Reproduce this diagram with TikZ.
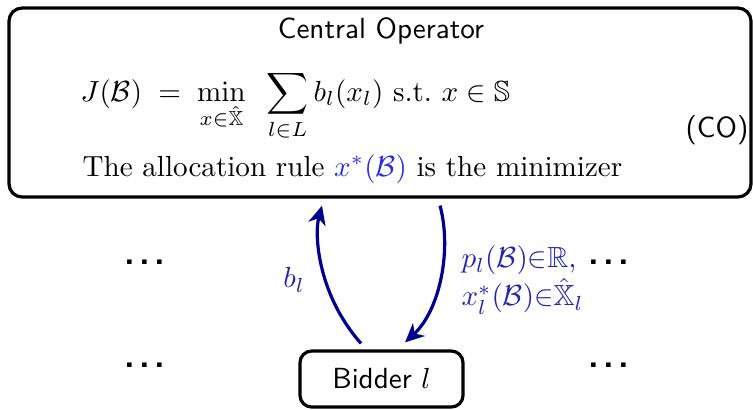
\documentclass[tikz,border=0pt]{standalone}
\usepackage{amsmath,amssymb}
\usetikzlibrary{calc,arrows.meta}
\definecolor{arrowcol}{RGB}{0,0,140}
\definecolor{labelcol}{RGB}{35,35,175}
\definecolor{hl}{RGB}{40,40,235}
\def\pxu{0.3434pt}
\tikzset{
  bigbox/.style={draw, line width=1.1pt, rounded corners=4.5pt, inner sep=0pt},
  bidbox/.style={draw, line width=1.1pt, rounded corners=4pt, inner sep=0pt, font=\sffamily},
  arr/.style={draw=arrowcol, line width=1.1pt, -{Stealth[length=6.5pt,width=6pt,inset=2pt]}},
  lbl/.style={text=labelcol, inner sep=0pt},
  dotsnode/.style={font=\fontsize{12}{12}\selectfont\sffamily\bfseries, inner sep=0pt, anchor=base},
  txt/.style={inner sep=0pt}
}
\newcommand{\mydots}{.\kern1.6pt.\kern1.6pt.}
\begin{document}
\begin{tikzpicture}[x=\pxu, y=-\pxu]
\useasboundingbox (0,0) rectangle (753,409);
% central operator box
\node[bigbox, minimum width=742*\pxu, minimum height=189*\pxu] (co) at (380,102.5) {};
\node[txt, font=\sffamily, anchor=base] (cotitle) at (381,38) {Central Operator};
\node[txt, anchor=base west] (eq) at (80,101)
  {$J(\mathcal{B})\;=\;\displaystyle\min_{x\in\hat{\mathbb{X}}}\;\;\sum_{l\in L}b_l(x_l)$ s.t.\ $x\in\mathbb{S}$};
\node[txt, font=\sffamily] (tag) at (717,130) {(CO)};
\node[txt, anchor=base west] (alloc) at (82,176)
  {The allocation rule \textcolor{hl}{$x^*(\mathcal{B})$} is the minimizer};
% bidder
\node[bidbox, minimum width=163*\pxu, minimum height=56*\pxu] (bid) at (381.5,379) {Bidder $l$};
% dots
\node[dotsnode] (d1) at (145,264) {\mydots};
\node[dotsnode] (d2) at (145,367) {\mydots};
\node[dotsnode] (d3) at (609,264) {\mydots};
\node[dotsnode] (d4) at (609,367) {\mydots};
% arrows
\draw[arr] ($(bid.north)+(-20.5,-6)$) .. controls (318,295) and (314,235) .. ($(co.south)+(-58,7)$);
\draw[arr] ($(co.south)+(60,7)$) .. controls (452,250) and (440,310) .. ($(bid.north)+(23.5,-7)$);
% labels
\node[lbl] (lb) at (294,280) {$b_l$};
\node[lbl, anchor=west, align=left] (lp) at (461,280) {$p_l(\mathcal{B}){\in}\mathbb{R}$,\\ $x_l^*(\mathcal{B}){\in}\hat{\mathbb{X}}_l$};
\end{tikzpicture}
\end{document}
